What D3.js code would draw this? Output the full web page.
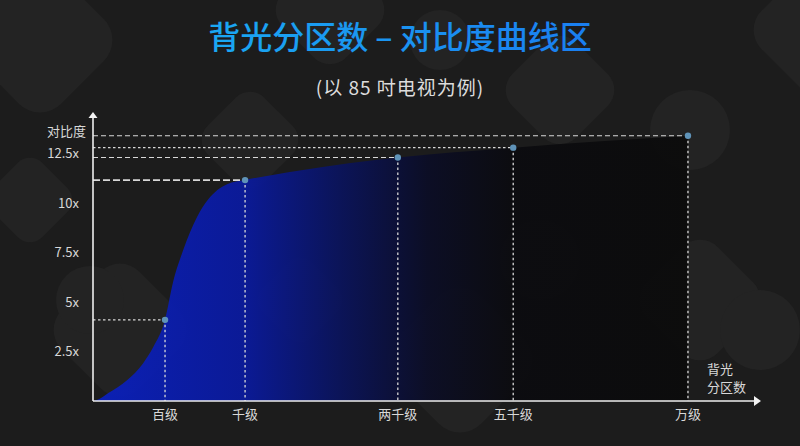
<!DOCTYPE html>
<html><head><meta charset="utf-8">
<script src="https://cdn.jsdelivr.net/npm/d3@7"></script>
<style>
html,body{margin:0;padding:0;background:#1c1c1c;}
svg{display:block;}
text{font-family:"Noto Sans CJK SC","Noto Sans",sans-serif;}
</style></head>
<body><svg id="c" width="800" height="446"></svg>
<script>
// ---- data ----
const categories = ["百级", "千级", "两千级", "五千级", "万级"];
const categoryPos = [1.08, 2.28, 4.57, 6.3, 8.92];   // position along the qualitative x axis
const contrast = [4.1, 11.16, 12.3, 12.8, 13.4];     // contrast value (x)
const curveX = [0, 0.06, 0.23, 0.51, 0.75, 0.9, 1.08, 1.2, 1.35, 1.56, 1.72, 2.01, 2.28, 3.1, 4.57, 6.3, 8.92];
const curveY = [0, 0.05, 0.4, 1.05, 1.9, 2.7, 4.1, 6.0, 7.6, 9.3, 10.15, 10.95, 11.16, 11.65, 12.3, 12.8, 13.4];
const yTicks = [2.5, 5, 7.5, 10, 12.5];
const yTickLabels = ["2.5x", "5x", "7.5x", "10x", "12.5x"];
const guideStyles = ["dotted", "long", "dashed", "dotted", "dashed"];
const title = "背光分区数 – 对比度曲线区";
const subtitle = "(以 85 吋电视为例)";
const yName = "对比度";
const xName = ["背光", "分区数"];

const svg = d3.select("#c");
const W = 800, H = 446;
const x0 = 93, yBase = 401;
const x = d3.scaleLinear().domain([0, 10]).range([x0, 760]);
const y = d3.scaleLinear().domain([0, 14.55]).range([yBase, 113]);

const defs = svg.append("defs");
const tg = defs.append("linearGradient").attr("id", "tg").attr("x1", "0").attr("x2", "1");
tg.append("stop").attr("offset", "0").attr("stop-color", "#1aa8f2");
tg.append("stop").attr("offset", "1").attr("stop-color", "#1a7ef0");
const ag = defs.append("linearGradient").attr("id", "ag").attr("gradientUnits", "userSpaceOnUse")
  .attr("x1", x0).attr("x2", 690).attr("y1", 0).attr("y2", 0);
[["0", "#0a20c0"], ["0.25", "#0a1aa0"], ["0.4", "#0a1462"], ["0.56", "#0b0d26"], ["0.7", "#0b0b0f"], ["1", "#0b0b0b"]]
  .forEach(s => ag.append("stop").attr("offset", s[0]).attr("stop-color", s[1]));

// background decoration
svg.append("rect").attr("width", W).attr("height", H).attr("fill", "#1c1c1c");
const deco = svg.append("g").attr("fill", "#232323");
[[40, 40, 120], [330, 10, 90], [250, 140, 80], [560, 90, 90], [820, 30, 110], [120, 330, 110],
 [460, 360, 120], [700, 300, 100], [300, 300, 70], [30, 200, 70]].forEach(d => {
  deco.append("rect").attr("x", -d[2] / 2).attr("y", -d[2] / 2).attr("width", d[2]).attr("height", d[2])
    .attr("rx", d[2] * 0.25).attr("transform", `translate(${d[0]},${d[1]}) rotate(45)`);
});
[[540, 260, 40], [90, 300, 34], [760, 330, 40], [440, 40, 30], [690, 130, 40]].forEach(d => {
  deco.append("circle").attr("cx", d[0]).attr("cy", d[1]).attr("r", d[2]);
});

// title
svg.append("text").attr("x", 400).attr("y", 49).attr("text-anchor", "middle")
  .attr("font-size", 32).attr("font-weight", 500).attr("fill", "url(#tg)").text(title);
svg.append("text").attr("x", 400).attr("y", 95).attr("text-anchor", "middle")
  .attr("font-size", 19).attr("letter-spacing", 1).attr("fill", "#dcdcdc").text(subtitle);

// area
const pts = curveX.map((v, i) => [v, curveY[i]]);
const area = d3.area().x(d => x(d[0])).y0(yBase).y1(d => y(d[1])).curve(d3.curveMonotoneX);
svg.append("path").datum(pts).attr("d", area).attr("fill", "url(#ag)").attr("fill-opacity", 0.93);

// guide lines
const dash = { dotted: "2.5,2.5", dashed: "5,3", long: "7,3" };
const g = svg.append("g");
categories.forEach((c, i) => {
  const px = x(categoryPos[i]), py = y(contrast[i]);
  g.append("line").attr("x1", x0).attr("x2", px).attr("y1", py).attr("y2", py)
    .attr("stroke", "#d8d8d8").attr("stroke-width", guideStyles[i] === "long" ? 1.6 : 1.1)
    .attr("stroke-dasharray", dash[guideStyles[i]]);
  g.append("line").attr("x1", px).attr("x2", px).attr("y1", py).attr("y2", yBase)
    .attr("stroke", "#d8d8d8").attr("stroke-width", 1.3).attr("stroke-dasharray", "2.5,2.5");
});
categories.forEach((c, i) => {
  g.append("circle").attr("cx", x(categoryPos[i])).attr("cy", y(contrast[i])).attr("r", 3.2)
    .attr("fill", "#5f93b8");
});

// axes
const ax = svg.append("g");
ax.append("line").attr("x1", x0).attr("x2", x0).attr("y1", yBase).attr("y2", 117)
  .attr("stroke", "#eeeeee").attr("stroke-width", 1.6);
ax.append("line").attr("x1", x0).attr("x2", 755).attr("y1", yBase).attr("y2", yBase)
  .attr("stroke", "#eeeeee").attr("stroke-width", 1.6);
ax.append("path").attr("d", `M${x0 - 4.5},${118} L${x0},${112} L${x0 + 4.5},${118} Z`).attr("fill", "#f2f2f2");
ax.append("path").attr("d", `M754,${yBase - 5} L761,${yBase} L754,${yBase + 5} Z`).attr("fill", "#f2f2f2");

// y tick labels
const yAxis = d3.axisLeft(y).tickValues(yTicks).tickSize(0).tickPadding(14)
  .tickFormat((d, i) => yTickLabels[i]);
const ya = svg.append("g").attr("transform", `translate(${x0},0)`).call(yAxis);
ya.select(".domain").remove();
ya.selectAll("text").attr("font-size", 13).attr("fill", "#d8d8d8")
  .attr("font-family", "'Noto Sans CJK SC','Noto Sans',sans-serif");
svg.append("text").attr("x", 86).attr("y", 136).attr("text-anchor", "end")
  .attr("font-size", 13).attr("fill", "#d8d8d8").text(yName);

// x tick labels
const xa = svg.append("g");
categories.forEach((c, i) => {
  xa.append("text").attr("x", x(categoryPos[i])).attr("y", 419).attr("text-anchor", "middle")
    .attr("font-size", 13).attr("fill", "#d8d8d8").text(c);
});
xName.forEach((t, i) => {
  svg.append("text").attr("x", 707).attr("y", 374 + i * 18).attr("font-size", 13)
    .attr("fill", "#d8d8d8").text(t);
});
</script></body></html>
